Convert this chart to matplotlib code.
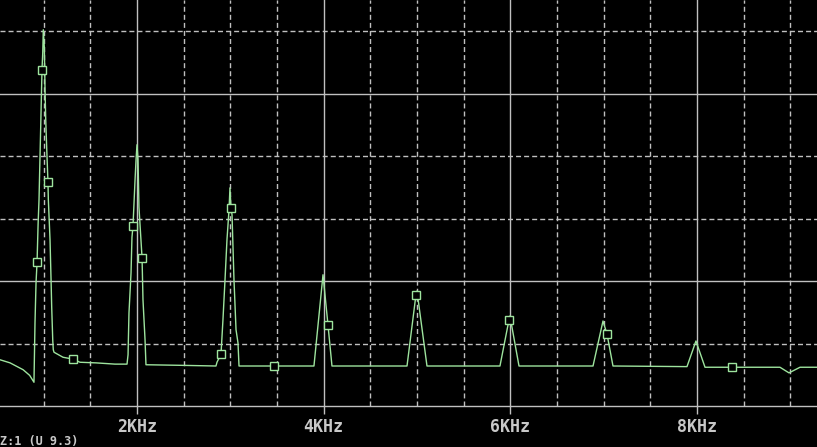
import matplotlib
matplotlib.use("Agg")
import matplotlib.pyplot as plt

# spectrum trace (frequency in kHz, level in grid divisions)
freq = [0.532, 0.64, 0.78, 0.85, 0.896,
        0.907, 0.918, 0.929, 0.94, 0.95, 0.968, 0.982, 0.990, 0.996,
        1.007, 1.014, 1.022, 1.032, 1.046, 1.05, 1.068, 1.079, 1.086, 1.097, 1.103,
        1.111, 1.207, 1.314, 1.389, 1.561, 1.764, 1.893,
        1.904, 1.914, 1.936, 1.946, 1.957, 1.968, 1.979, 1.99, 2.0,
        2.011, 2.021, 2.054, 2.064, 2.086, 2.096,
        2.5, 2.846, 2.857, 2.9, 2.921, 2.943, 2.964, 2.986, 2.996,
        3.007, 3.018, 3.039, 3.061, 3.082, 3.093,
        3.468, 3.896, 3.993, 4.046, 4.089,
        4.893, 4.989, 5.0, 5.107,
        5.889, 5.986, 5.996, 6.093,
        6.886, 6.993, 7.036, 7.1,
        7.893, 7.989, 8.086,
        8.375, 8.889, 8.986, 9.104, 9.3]
level = [0.74, 0.69, 0.58, 0.49, 0.38,
         1.33, 1.97, 2.30, 2.90, 3.30, 4.46, 5.38, 5.65, 6.02,
         5.74, 5.10, 4.58, 4.14, 3.58, 3.30, 2.66, 2.02, 1.58, 1.06, 0.90,
         0.86, 0.78, 0.75, 0.70, 0.69, 0.67, 0.67,
         0.82, 1.49, 2.13, 2.70, 2.88, 3.25, 3.62, 3.95, 4.18,
         3.94, 3.18, 2.37, 1.70, 1.06, 0.66,
         0.65, 0.64, 0.70, 0.83, 1.38, 2.02, 2.66, 3.14, 3.49,
         3.17, 3.06, 2.02, 1.22, 1.01, 0.64,
         0.64, 0.64, 2.10, 1.30, 0.64,
         0.64, 1.78, 1.84, 0.64,
         0.64, 1.38, 1.44, 0.64,
         0.64, 1.36, 1.15, 0.64,
         0.63, 1.04, 0.62,
         0.62, 0.62, 0.53, 0.62, 0.62]

# marker squares on the trace
mk_freq = [0.929, 0.982, 1.046, 1.314, 1.957, 2.054, 2.9, 3.007,
           3.468, 4.046, 4.989, 5.986, 7.036, 8.375]
mk_level = [2.30, 5.38, 3.58, 0.75, 2.88, 2.37, 0.83, 3.17,
            0.64, 1.30, 1.78, 1.38, 1.15, 0.62]

xticks = [2, 4, 6, 8]
xlabels = ["2KHz", "4KHz", "6KHz", "8KHz"]
xminor = [1, 1.5, 2.5, 3, 3.5, 4.5, 5, 5.5, 6.5, 7, 7.5, 8.5, 9]
ymajor = [2, 5]
yminor = [1, 3, 4, 6]

green = "#9ee49e"
grey = "#c0c0c0"

fig = plt.figure(figsize=(8.17, 4.47), dpi=100, facecolor="black")
ax = fig.add_axes([0, 41 / 447, 1, 406 / 447])
ax.set_facecolor("black")
ax.set_xlim(0.532, 9.286)
ax.set_ylim(0, 6.496)

# grid
for x in xticks:
    ax.axvline(x, color=grey, lw=1.0, zorder=1)
for x in xminor:
    ax.axvline(x, color=grey, lw=1.0, ls=(0, (3.6, 2.2)), zorder=1)
for y in ymajor:
    ax.axhline(y, color=grey, lw=1.0, zorder=1)
for y in yminor:
    ax.axhline(y, color=grey, lw=1.0, ls=(0, (3.6, 2.2)), zorder=1)

ax.plot(freq, level, color=green, lw=1.0, zorder=3)
ax.plot(mk_freq, mk_level, ls="none", marker="s", ms=6, mfc="black",
        mec=green, mew=1.0, zorder=4)

for s in ["top", "left", "right"]:
    ax.spines[s].set_visible(False)
ax.spines["bottom"].set_color(grey)
ax.spines["bottom"].set_linewidth(1.0)

ax.set_xticks(xticks)
ax.set_xticklabels(xlabels, family="DejaVu Sans Mono", fontweight="bold",
                   fontsize=12, color="#c8c8c8")
ax.tick_params(axis="x", direction="out", length=6, width=1, color=grey, pad=3)
ax.set_yticks([])

fig.text(0.0, 1 - 435 / 447, "Z:1 (U 9.3)", family="DejaVu Sans Mono",
         fontweight="bold", fontsize=8.5, color="#c8c8c8", va="top", ha="left")

fig.savefig("out.png", dpi=100, facecolor="black")
